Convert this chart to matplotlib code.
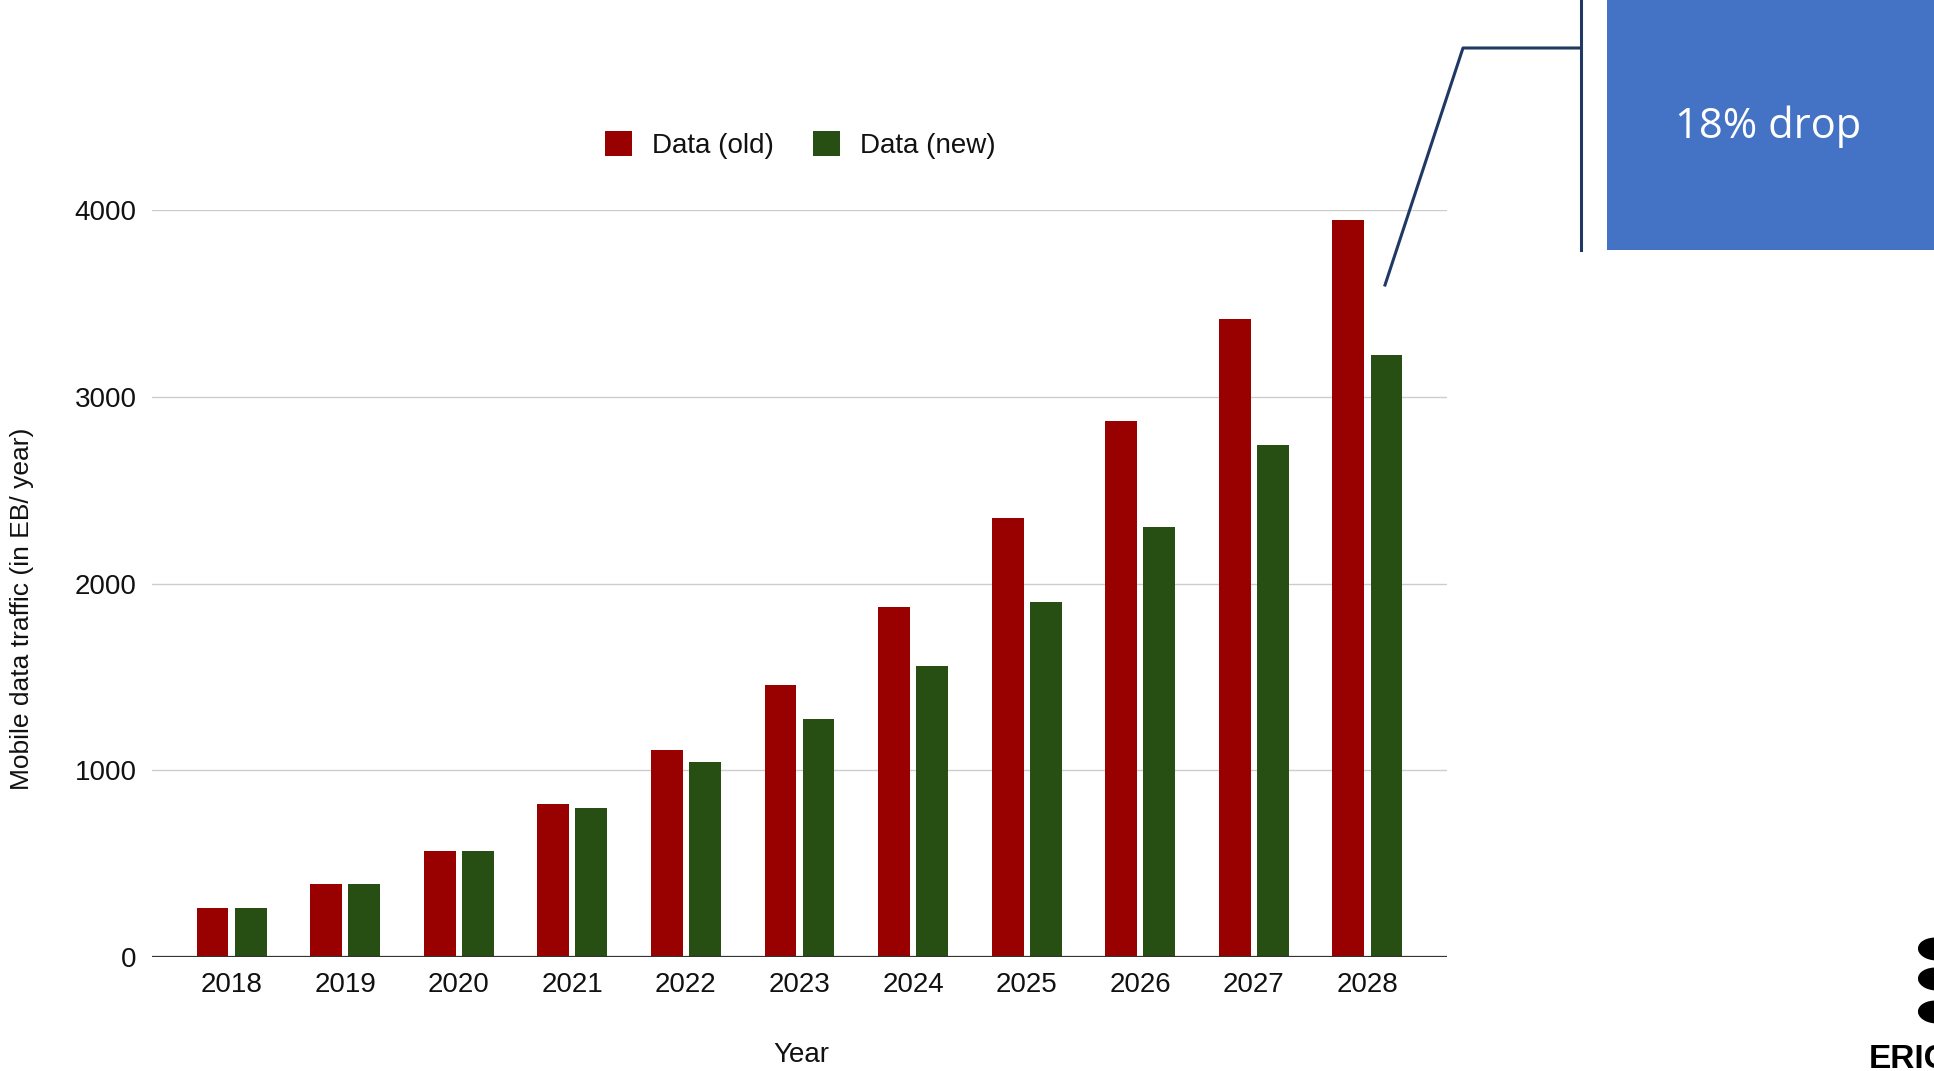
import numpy as np
import matplotlib.pyplot as plt
from matplotlib.patches import Rectangle, Ellipse
from matplotlib.lines import Line2D

plt.rcParams['font.family'] = ['Liberation Sans', 'DejaVu Sans']

years = ['2018', '2019', '2020', '2021', '2022', '2023', '2024', '2025', '2026', '2027', '2028']
traffic_old = [264, 389, 568, 818, 1109, 1459, 1875, 2350, 2871, 3419, 3947]
traffic_new = [264, 389, 568, 799, 1043, 1274, 1558, 1901, 2304, 2739, 3221]
series_names = ['Data (old)', 'Data (new)']
y_ticks = [0, 1000, 2000, 3000, 4000]

W, H = 1934, 1071
fig = plt.figure(figsize=(W / 100, H / 100), dpi=100)


def fx(px):
    return px / W


def fy(py):
    return 1 - py / H


# plot area in pixel terms: left 152, right 1447, top 210, bottom 957
ax = fig.add_axes([fx(152), fy(957), fx(1447 - 152), (957 - 210) / H])

x = np.arange(len(years))
w = 0.28
off = 0.168
ax.bar(x - off, traffic_old, w, color='#990000', label=series_names[0], zorder=2)
ax.bar(x + off, traffic_new, w, color='#274e13', label=series_names[1], zorder=2)

txt = '#111111'
ax.set_xlim(-0.7, len(years) - 0.3)
ax.set_ylim(0, 4000)
ax.set_yticks(y_ticks)
ax.set_xticks(x)
ax.set_xticklabels(years)
ax.tick_params(axis='both', length=0, labelsize=20, colors=txt)
ax.tick_params(axis='y', pad=11)
ax.tick_params(axis='x', pad=11)
ax.grid(axis='y', color='#cccccc', linewidth=1.0, zorder=0)
for s in ax.spines.values():
    s.set_visible(False)
ax.axhline(0, color='#333333', linewidth=1.6, zorder=3)

fig.text(fx(801), fy(1055), 'Year', ha='center', va='center', fontsize=20, color=txt)
fig.text(fx(22), fy(609), 'Mobile data traffic (in EB/ year)', rotation=90,
         ha='center', va='center', fontsize=19, color=txt)

leg = fig.legend(loc='center', bbox_to_anchor=(fx(800), fy(145)), ncol=2, frameon=False,
                 fontsize=20, handlelength=1.0, handleheight=1.0, handletextpad=0.7,
                 columnspacing=1.4)
for t in leg.get_texts():
    t.set_color(txt)

# callout box with the drop in 2028
drop = (traffic_old[-1] - traffic_new[-1]) / traffic_old[-1] * 100
fig.patches.append(Rectangle((fx(1607), fy(250)), fx(W - 1607) + 0.01, 250 / H,
                             transform=fig.transFigure, facecolor='#4472c4',
                             edgecolor='none'))
fig.text(fx(1768), fy(127), f'{drop:.0f}% drop', ha='center', va='center',
         fontsize=30, color='white', family=['Open Sans', 'DejaVu Sans'])
navy = '#1f3864'
fig.lines.append(Line2D([fx(1581), fx(1581)], [fy(0), fy(250)], transform=fig.transFigure,
                        color=navy, linewidth=2.2))
fig.lines.append(Line2D([fx(1385), fx(1463), fx(1581)], [fy(285), fy(48), fy(48)],
                        transform=fig.transFigure, color=navy, linewidth=2.2))

# logo in the corner, cut by the page edge
for cy in [949, 979, 1012]:
    fig.patches.append(Ellipse((fx(1936), fy(cy)), fx(36), 23 / H, angle=8,
                               transform=fig.transFigure, facecolor='black',
                               edgecolor='none'))
fig.text(fx(1869), fy(1059), 'ERICSSON', ha='left', va='center', fontsize=24,
         fontweight='bold', color='black')

fig.savefig('out.png', dpi=100)
